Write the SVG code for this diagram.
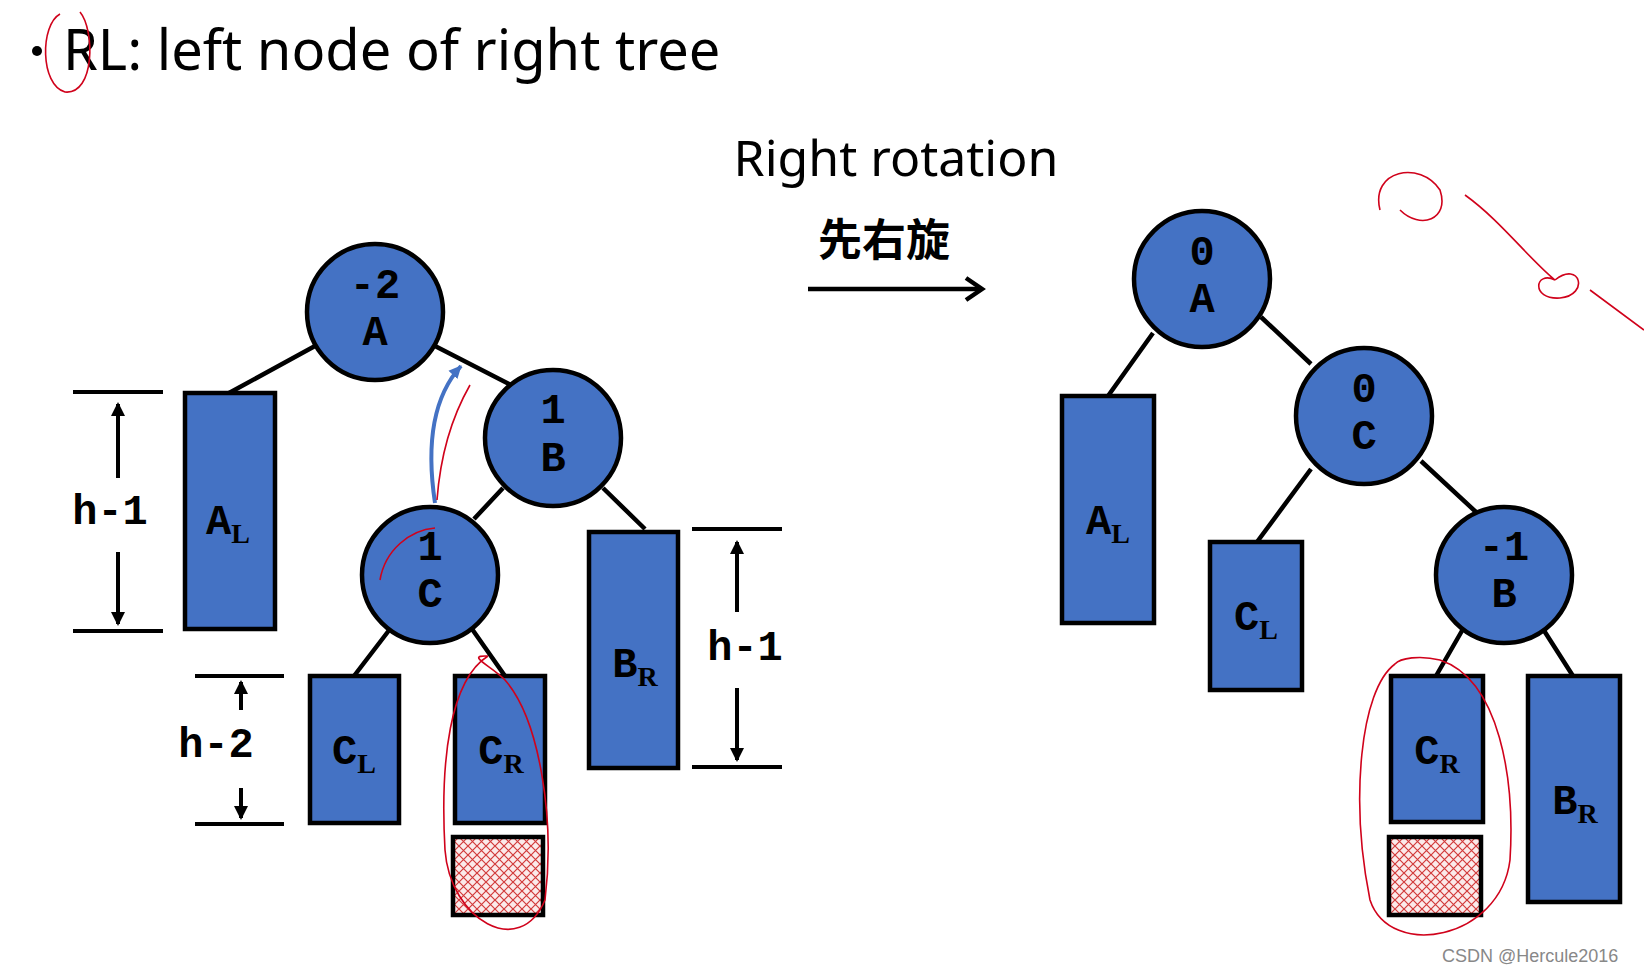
<svg xmlns="http://www.w3.org/2000/svg" width="1644" height="972" viewBox="0 0 1644 972">
<style>
.n{fill:#4472C4;stroke:#000;stroke-width:4.5}
.e{stroke:#000;stroke-width:4.5;fill:none}
.t{font-family:"Liberation Mono",monospace;font-weight:bold;font-size:42px;fill:#000;text-anchor:middle}
.s{font-family:"Liberation Serif",serif;font-size:28px}
.d{stroke:#000;stroke-width:4;fill:none}
.r{stroke:#d0021b;stroke-width:1.6;fill:none}
</style>
<defs>
<pattern id="hatch" width="9" height="9" patternUnits="userSpaceOnUse">
<rect width="9" height="9" fill="#fbeaea"/>
<path d="M0,0L9,9M9,0L0,9" stroke="#d23a3a" stroke-width="1.2"/>
</pattern>
<marker id="ah" markerWidth="14" markerHeight="16" refX="12" refY="8" orient="auto" markerUnits="userSpaceOnUse">
<path d="M0,1L14,8L0,15z" fill="#000"/>
</marker>
<marker id="bh" markerWidth="14" markerHeight="14" refX="12" refY="7" orient="auto" markerUnits="userSpaceOnUse">
<path d="M0,1L13,7L0,13z" fill="#4472C4"/>
</marker>
</defs>
<rect width="1644" height="972" fill="#fff"/>
<circle cx="37" cy="51" r="5" fill="#000"/>
<text x="63" y="70" font-family="'Noto Sans',sans-serif" font-size="56" fill="#000">RL: left node of right tree</text>
<text x="896" y="176" font-family="'Noto Sans',sans-serif" font-size="50" fill="#000" text-anchor="middle">Right rotation</text>
<text x="884" y="256" font-family="'Noto Sans CJK SC',sans-serif" font-weight="bold" font-size="44" fill="#000" text-anchor="middle">先右旋</text>
<g id="connectors">
<path class="e" d="M315,346L229,393M435,346L511,385M503,488L474,519M603,488L645,529M390,629L354,676M472,629L505,676"/>
<path class="e" d="M1153,333L1108,396M1261,317L1311,364M1311,469L1257,542M1421,461L1476,512M1463,629L1436,676M1543,629L1573,676"/>
<path d="M808,289L982,289" stroke="#000" stroke-width="4.5" fill="none"/>
<path d="M966,278L982,289L966,300" stroke="#000" stroke-width="4.5" fill="none"/>
<path d="M435,503C427,450 430,400 461,366" stroke="#4472C4" stroke-width="4" fill="none" marker-end="url(#bh)"/>
</g>
<g id="dims">
<path class="d" d="M73,392H163M73,631H163M195,676H284M195,824H284M692,529H782M692,767H782"/>
<path class="d" d="M118,478V404" marker-end="url(#ah)"/>
<path class="d" d="M118,552V624" marker-end="url(#ah)"/>
<path class="d" d="M241,710V682" marker-end="url(#ah)"/>
<path class="d" d="M241,788V818" marker-end="url(#ah)"/>
<path class="d" d="M737,612V542" marker-end="url(#ah)"/>
<path class="d" d="M737,688V760" marker-end="url(#ah)"/>
<text class="t" x="110" y="524">h-1</text>
<text class="t" x="216" y="757">h-2</text>
<text class="t" x="745" y="660">h-1</text>
</g>
<g id="AL1"><rect class="n" x="185" y="393" width="90" height="236"/><text class="t" x="228" y="534">A<tspan class="s" dy="9">L</tspan></text></g>
<g id="CL1"><rect class="n" x="310" y="676" width="89" height="147"/><text class="t" x="354" y="764">C<tspan class="s" dy="9">L</tspan></text></g>
<g id="CR1"><rect class="n" x="455" y="676" width="90" height="147"/><text class="t" x="501" y="764">C<tspan class="s" dy="9">R</tspan></text></g>
<g id="H1"><rect x="453" y="837" width="90" height="78" fill="url(#hatch)" stroke="#000" stroke-width="4.5"/></g>
<g id="BR1"><rect class="n" x="589" y="532" width="89" height="236"/><text class="t" x="635" y="677">B<tspan class="s" dy="9">R</tspan></text></g>
<g id="A1"><circle class="n" cx="375" cy="312" r="68"/><text class="t" x="375" y="298">-2</text><text class="t" x="375" y="345">A</text></g>
<g id="B1"><circle class="n" cx="553" cy="438" r="68"/><text class="t" x="553" y="423">1</text><text class="t" x="553" y="471">B</text></g>
<g id="C1"><circle class="n" cx="430" cy="575" r="68"/><text class="t" x="430" y="560">1</text><text class="t" x="430" y="607">C</text></g>
<g id="AL2"><rect class="n" x="1062" y="396" width="92" height="227"/><text class="t" x="1108" y="534">A<tspan class="s" dy="9">L</tspan></text></g>
<g id="CL2"><rect class="n" x="1210" y="542" width="92" height="148"/><text class="t" x="1256" y="630">C<tspan class="s" dy="9">L</tspan></text></g>
<g id="CR2"><rect class="n" x="1391" y="676" width="92" height="146"/><text class="t" x="1437" y="764">C<tspan class="s" dy="9">R</tspan></text></g>
<g id="H2"><rect x="1389" y="837" width="92" height="78" fill="url(#hatch)" stroke="#000" stroke-width="4.5"/></g>
<g id="BR2"><rect class="n" x="1528" y="676" width="92" height="226"/><text class="t" x="1575" y="814">B<tspan class="s" dy="9">R</tspan></text></g>
<g id="A2"><circle class="n" cx="1202" cy="279" r="68"/><text class="t" x="1202" y="265">0</text><text class="t" x="1202" y="312">A</text></g>
<g id="C2"><circle class="n" cx="1364" cy="416" r="68"/><text class="t" x="1364" y="402">0</text><text class="t" x="1364" y="449">C</text></g>
<g id="B2"><circle class="n" cx="1504" cy="575" r="68"/><text class="t" x="1504" y="560">-1</text><text class="t" x="1504" y="607">B</text></g>
<g id="ink">
<path class="r" d="M60,14C40,25 40,85 65,92C95,95 95,30 80,12"/>
<path class="r" d="M488,656C450,680 440,760 445,850C450,920 520,960 545,900C555,820 540,720 505,680C490,665 465,655 488,656"/>
<path class="r" d="M1395,664C1360,690 1350,800 1370,900C1390,960 1500,940 1510,860C1515,780 1500,680 1440,660C1420,655 1400,658 1395,664"/>
<path class="r" d="M1380,210C1370,170 1420,160 1440,190C1450,220 1420,230 1400,210M1465,195C1500,220 1530,260 1555,280C1535,270 1530,300 1560,298C1590,295 1580,260 1555,280M1590,290L1644,330"/>
<path class="r" d="M437,500C440,460 450,420 470,385M380,580C385,550 410,530 435,528"/>
</g>
<text x="1442" y="962" font-family="'Liberation Sans',sans-serif" font-size="18" fill="#888">CSDN @Hercule2016</text>
</svg>
